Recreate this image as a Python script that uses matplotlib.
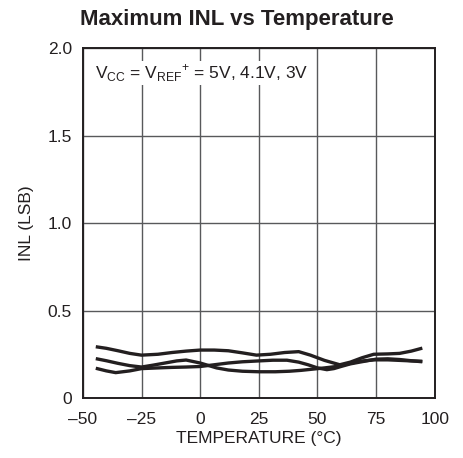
import matplotlib
matplotlib.use("Agg")
import matplotlib.pyplot as plt

plt.rcParams['font.family'] = ['Liberation Sans', 'DejaVu Sans']

# temperature points (deg C) and INL (LSB)
temp_a = [-44.5, -40, -35, -30, -25, -18, -12, -6, 0, 6, 12, 18, 24, 30, 36, 42, 47, 53, 59.5, 64, 69, 74, 80, 85, 90, 94.7]
inl_a = [0.293, 0.284, 0.27, 0.255, 0.245, 0.25, 0.26, 0.268, 0.274, 0.274, 0.27, 0.258, 0.245, 0.25, 0.26, 0.265, 0.245, 0.215, 0.19, 0.205, 0.23, 0.25, 0.252, 0.255, 0.268, 0.285]

temp_b = [-44.5, -40, -35, -30, -25, -20, -15, -10, -6, 0, 7, 12, 18, 25, 32, 38, 43, 48, 53, 58, 63, 68, 74, 80, 85, 90, 94.7]
inl_b = [0.225, 0.213, 0.198, 0.185, 0.177, 0.188, 0.2, 0.212, 0.217, 0.2, 0.172, 0.16, 0.153, 0.15, 0.15, 0.153, 0.158, 0.165, 0.172, 0.18, 0.195, 0.21, 0.218, 0.218, 0.215, 0.212, 0.21]

temp_c = [-44.5, -40, -36, -30, -25, -18, -12, -6, 0, 6, 12, 18, 25, 31, 37, 42, 46, 50, 54, 57, 60, 64, 68, 75, 80, 85, 90, 94.7]
inl_c = [0.17, 0.155, 0.145, 0.155, 0.168, 0.172, 0.175, 0.177, 0.18, 0.19, 0.2, 0.207, 0.212, 0.216, 0.216, 0.205, 0.19, 0.172, 0.162, 0.168, 0.18, 0.195, 0.205, 0.222, 0.224, 0.22, 0.213, 0.207]

x_ticks = [-50, -25, 0, 25, 50, 75, 100]
x_labels = ['\u201350', '\u201325', '0', '25', '50', '75', '100']
y_ticks = [0, 0.5, 1.0, 1.5, 2.0]
y_labels = ['0', '0.5', '1.0', '1.5', '2.0']

fig = plt.figure(figsize=(4.63, 4.58), dpi=100)
ax = fig.add_axes([0.179, 0.131, 0.760, 0.764])

for t, v in [(temp_a, inl_a), (temp_b, inl_b), (temp_c, inl_c)]:
    ax.plot(t, v, color='#231f20', lw=2.4, solid_joinstyle='round', solid_capstyle='butt')

ax.set_xlim(-50, 100)
ax.set_ylim(0, 2.0)
ax.set_xticks(x_ticks)
ax.set_xticklabels(x_labels)
ax.set_yticks(y_ticks)
ax.set_yticklabels(y_labels)
ax.tick_params(axis='x', length=0, labelsize=12.5, colors='#231f20', pad=10)
ax.tick_params(axis='y', length=0, labelsize=12.5, colors='#231f20', pad=8)
ax.grid(True, color='#58595b', lw=1.0)
for s in ax.spines.values():
    s.set_linewidth(1.4)
    s.set_color('#231f20')

ax.set_xlabel('TEMPERATURE (\u00b0C)', fontsize=12.5, color='#231f20', labelpad=3)
ax.set_ylabel('INL (LSB)', fontsize=12.5, color='#231f20', labelpad=10)

ax.text(0.035, 0.96, r'V$_\mathregular{CC}$ = V$_\mathregular{REF}$$^\mathregular{+}$ = 5V, 4.1V, 3V',
        transform=ax.transAxes, ha='left', va='top', fontsize=12.5, color='#231f20',
        bbox=dict(facecolor='white', edgecolor='none', pad=1))

fig.text(237 / 463, 1 - 20 / 458, 'Maximum INL vs Temperature', ha='center', va='center',
         fontsize=16, fontweight='bold', color='#231f20')

fig.savefig('out.png', dpi=100)
